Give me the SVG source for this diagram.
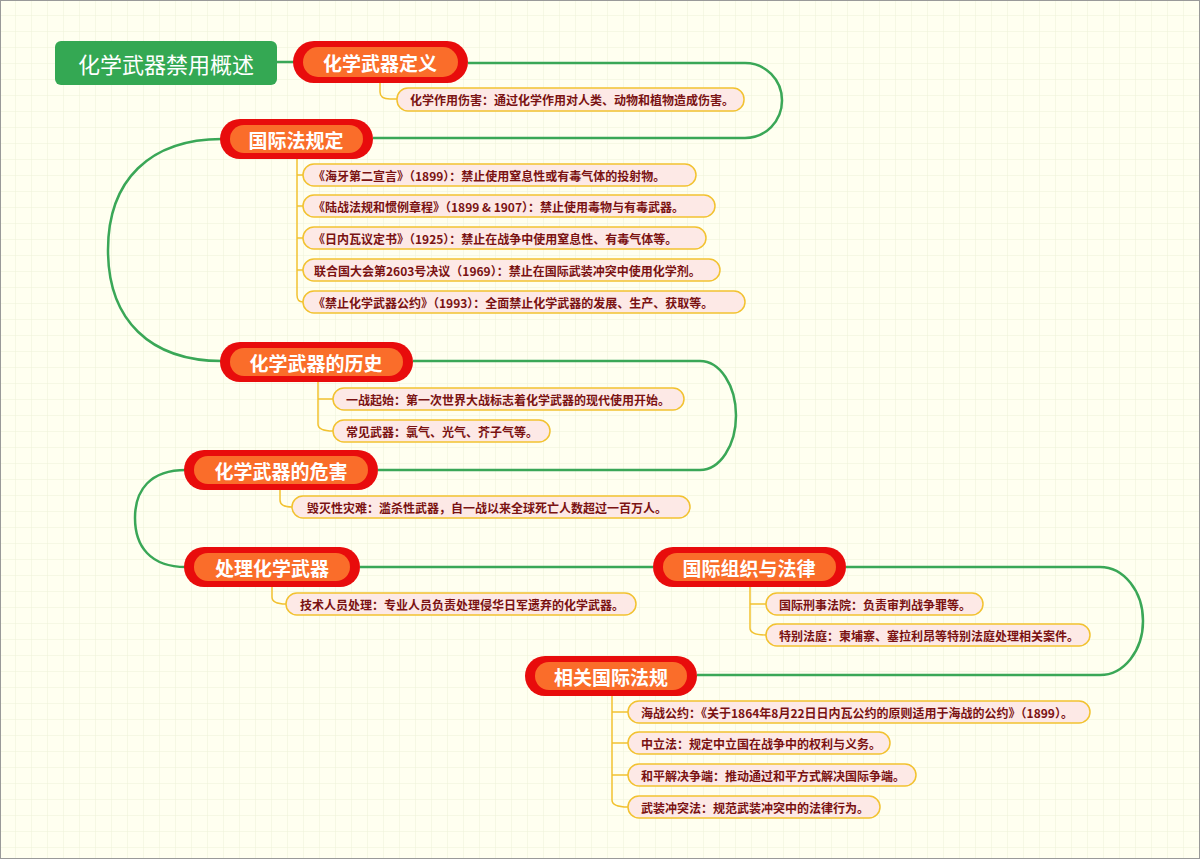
<svg xmlns="http://www.w3.org/2000/svg" width="1200" height="859" viewBox="0 0 1200 859">
<defs>
<pattern id="grid" width="16" height="16" patternUnits="userSpaceOnUse"><rect width="16" height="16" fill="#fffff0"/><path d="M16 0V16H0" fill="none" stroke="#eef2d8" stroke-width="1"/></pattern>
<style>
.t{fill:#e80c0c}.i{fill:#fa6d2a}
.tt{font-family:"Noto Sans CJK SC",sans-serif;font-size:19px;font-weight:bold;fill:#fff;text-anchor:middle;dominant-baseline:central}
.s{fill:#fde9e6;stroke:#f2c230;stroke-width:1.5}
.st{font-family:"Noto Sans CJK SC",sans-serif;font-size:12px;font-weight:bold;fill:#7a1212;dominant-baseline:central}
.g{fill:none;stroke:#3aa757;stroke-width:2.5}
.y{fill:none;stroke:#f2c230;stroke-width:1.5}
</style>
</defs>
<rect width="1200" height="859" fill="url(#grid)"/>
<rect x="0.5" y="0.5" width="1199" height="858" fill="none" stroke="#999"/>
<g id="connectors">
<path class="g" d="M277 62H295"/>
<path class="g" d="M468 63H745A37 37.5 0 0 1 745 138H373"/>
<path class="g" d="M222 139C150 139 108 180 108 250C108 320 150 361 222 361"/>
<path class="g" d="M413 361H700A36 54.5 0 0 1 700 470H378"/>
<path class="g" d="M186 470C150 470 135 490 135 518C135 546 150 567 186 567"/>
<path class="g" d="M360 567H653"/>
<path class="g" d="M846 567H1100A43 54 0 0 1 1100 675H697"/>
<path class="y" d="M380 83V92Q380 99 390 99H397"/>
<path class="y" d="M297 158V295Q297 302 303 302M297 175H303M297 206H303M297 238H303M297 270H303"/>
<path class="y" d="M318 381V424Q318 431 333 431M318 399H333"/>
<path class="y" d="M280 489V500Q280 507 292 507"/>
<path class="y" d="M272 586V597Q272 604 286 604"/>
<path class="y" d="M750 586V628Q750 635 766 635M750 604H766"/>
<path class="y" d="M612 695V800Q612 807 628 807M612 712H628M612 743H628M612 775H628"/>
</g>
<g id="root"><rect x="55" y="41" width="222" height="44" rx="6" fill="#34a853"/><text x="166" y="63" font-family="Noto Sans CJK SC,sans-serif" font-size="22" fill="#fff" text-anchor="middle" dominant-baseline="central">化学武器禁用概述</text></g>
<g id="n1"><rect class="t" x="293" y="41" width="175" height="42" rx="21"/><rect class="i" x="303" y="47" width="155" height="30" rx="15"/><text class="tt" x="380" y="62">化学武器定义</text></g>
<g id="n2"><rect class="t" x="220" y="119" width="153" height="40" rx="20"/><rect class="i" x="230" y="125" width="133" height="28" rx="14"/><text class="tt" x="296" y="139">国际法规定</text></g>
<g id="n3"><rect class="t" x="220" y="342" width="193" height="40" rx="20"/><rect class="i" x="230" y="348" width="173" height="28" rx="14"/><text class="tt" x="316" y="362">化学武器的历史</text></g>
<g id="n4"><rect class="t" x="184" y="450" width="194" height="40" rx="20"/><rect class="i" x="194" y="456" width="174" height="28" rx="14"/><text class="tt" x="281" y="470">化学武器的危害</text></g>
<g id="n5"><rect class="t" x="184" y="547" width="176" height="40" rx="20"/><rect class="i" x="194" y="553" width="156" height="28" rx="14"/><text class="tt" x="272" y="567">处理化学武器</text></g>
<g id="n6"><rect class="t" x="653" y="547" width="193" height="40" rx="20"/><rect class="i" x="663" y="553" width="173" height="28" rx="14"/><text class="tt" x="749" y="567">国际组织与法律</text></g>
<g id="n7"><rect class="t" x="525" y="656" width="172" height="40" rx="20"/><rect class="i" x="535" y="662" width="152" height="28" rx="14"/><text class="tt" x="611" y="676">相关国际法规</text></g>
<g id="s1"><rect class="s" x="397" y="88" width="347" height="23" rx="11"/><text class="st" x="410" y="99.5">化学作用伤害：通过化学作用对人类、动物和植物造成伤害。</text></g>
<g id="s2"><rect class="s" x="303" y="164" width="393" height="22" rx="11"/><text class="st" x="313" y="175">《海牙第二宣言》（1899）：禁止使用窒息性或有毒气体的投射物。</text></g>
<g id="s3"><rect class="s" x="303" y="195" width="412" height="22" rx="11"/><text class="st" x="313" y="206">《陆战法规和惯例章程》（1899 &amp; 1907）：禁止使用毒物与有毒武器。</text></g>
<g id="s4"><rect class="s" x="303" y="227" width="403" height="22" rx="11"/><text class="st" x="313" y="238">《日内瓦议定书》（1925）：禁止在战争中使用窒息性、有毒气体等。</text></g>
<g id="s5"><rect class="s" x="303" y="259" width="417" height="22" rx="11"/><text class="st" x="314" y="270">联合国大会第2603号决议（1969）：禁止在国际武装冲突中使用化学剂。</text></g>
<g id="s6"><rect class="s" x="303" y="291" width="442" height="22" rx="11"/><text class="st" x="313" y="302">《禁止化学武器公约》（1993）：全面禁止化学武器的发展、生产、获取等。</text></g>
<g id="s7"><rect class="s" x="333" y="388" width="351" height="22" rx="11"/><text class="st" x="346" y="399">一战起始：第一次世界大战标志着化学武器的现代使用开始。</text></g>
<g id="s8"><rect class="s" x="333" y="420" width="217" height="22" rx="11"/><text class="st" x="346" y="431">常见武器：氯气、光气、芥子气等。</text></g>
<g id="s9"><rect class="s" x="292" y="496" width="398" height="22" rx="11"/><text class="st" x="307" y="507">毁灭性灾难：滥杀性武器，自一战以来全球死亡人数超过一百万人。</text></g>
<g id="s10"><rect class="s" x="286" y="593" width="350" height="22" rx="11"/><text class="st" x="300" y="604">技术人员处理：专业人员负责处理侵华日军遗弃的化学武器。</text></g>
<g id="s11"><rect class="s" x="766" y="593" width="217" height="22" rx="11"/><text class="st" x="779" y="604">国际刑事法院：负责审判战争罪等。</text></g>
<g id="s12"><rect class="s" x="766" y="624" width="324" height="22" rx="11"/><text class="st" x="779" y="635">特别法庭：柬埔寨、塞拉利昂等特别法庭处理相关案件。</text></g>
<g id="s13"><rect class="s" x="628" y="701" width="462" height="22" rx="11"/><text class="st" x="641" y="712">海战公约：《关于1864年8月22日日内瓦公约的原则适用于海战的公约》（1899）。</text></g>
<g id="s14"><rect class="s" x="628" y="732" width="262" height="22" rx="11"/><text class="st" x="641" y="743">中立法：规定中立国在战争中的权利与义务。</text></g>
<g id="s15"><rect class="s" x="628" y="764" width="288" height="22" rx="11"/><text class="st" x="641" y="775">和平解决争端：推动通过和平方式解决国际争端。</text></g>
<g id="s16"><rect class="s" x="628" y="796" width="252" height="22" rx="11"/><text class="st" x="641" y="807">武装冲突法：规范武装冲突中的法律行为。</text></g>
</svg>
